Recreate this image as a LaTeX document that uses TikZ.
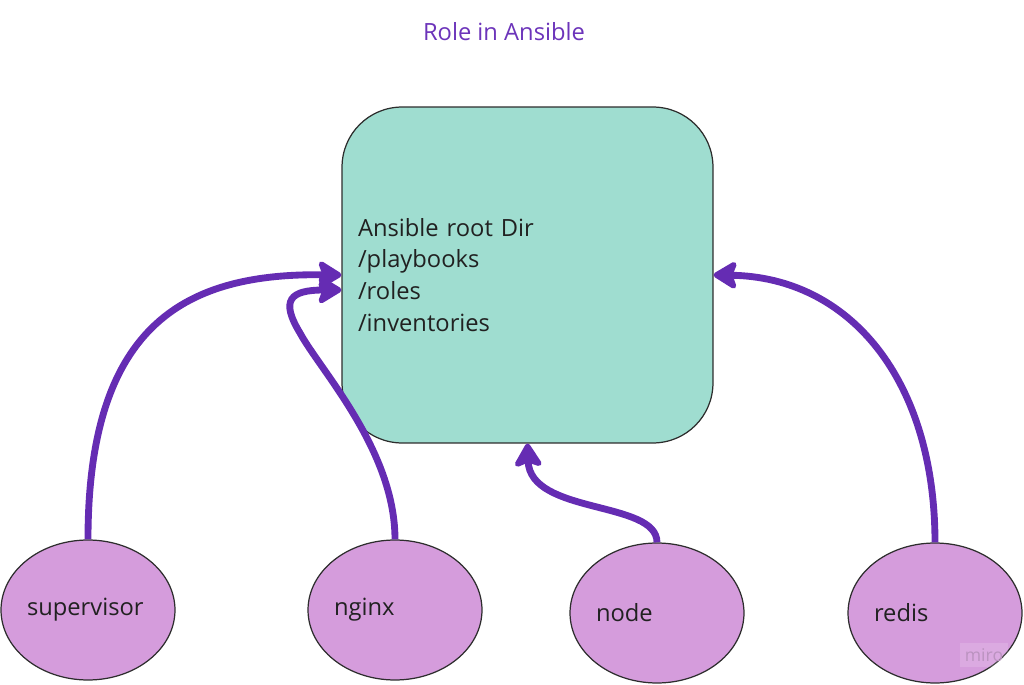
\documentclass[tikz,border=0pt]{standalone}
\usepackage{fontspec}
\setmainfont{Open Sans}
\usepackage{tikz}
\usetikzlibrary{shapes,arrows.meta,positioning,calc}

\definecolor{linkpurple}{RGB}{101,44,179}
\definecolor{titlepurple}{RGB}{108,52,186}
\definecolor{boxteal}{RGB}{159,221,208}
\definecolor{rolepink}{RGB}{213,156,220}
\definecolor{edgegray}{RGB}{45,45,45}

\begin{document}
\begin{tikzpicture}[
    x=0.02cm, y=-0.02cm,
    every node/.style={font=\fontsize{13.5}{18.1}\selectfont, text=black!87},
    rootbox/.style={draw=edgegray, line width=0.7pt, fill=boxteal, rounded corners=1.2cm,
        minimum width=7.42cm, minimum height=6.72cm, text width=6.78cm, align=left, inner sep=0pt},
    rolenode/.style={ellipse, draw=edgegray, line width=0.7pt, fill=rolepink,
        minimum width=3.48cm, minimum height=2.8cm, text width=2.44cm, align=left, inner sep=0pt},
    link/.style={draw=linkpurple, line width=3.9pt,
        -{Stealth[length=0.55cm, width=0.66cm, inset=0.12cm, round]}}
]
\useasboundingbox (0,0) rectangle (1024,685);

% Title
\node[text=titlepurple] (title) at (504,32) {Role in Ansible};

% Ansible root directory
\node[rootbox] (root) at (527.5,275) {Ansible root Dir\\/playbooks\\/roles\\/inventories};

% Roles
\foreach \name/\x/\y/\lbl in {sup/88/610/supervisor, ngx/395/610/nginx, nd/657/613/node, rds/935/613/redis} {
    \node[rolenode] (\name) at (\x,\y) {\lbl};
}

% Links to the root dir
\draw[link] (sup.north) .. controls (88,320) and (190,273) .. (root.west);
\draw[link] (ngx.north) .. controls (395,450) and (320,370) .. (300,333)
    .. controls (280,300) and (290,290) .. ([yshift=-0.3cm]root.west);
\draw[link] (nd.north) .. controls (657,500) and (530,515) .. (root.south);
\draw[link] (rds.north) .. controls (935,380) and (850,277) .. (root.east);

% Watermark
\node[fill=white, fill opacity=0.15, text opacity=1, text=rolepink!70!gray,
    minimum width=0.96cm, minimum height=0.5cm, inner sep=0pt,
    font=\fontsize{10}{12}\selectfont] (wm) at (984,655) {miro};

\end{tikzpicture}
\end{document}
